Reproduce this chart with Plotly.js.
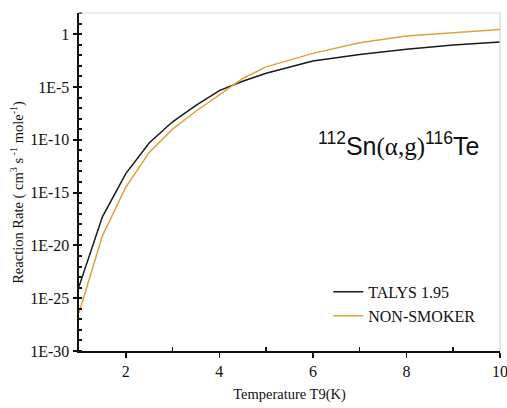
<!DOCTYPE html>
<html>
<head>
<meta charset="utf-8">
<script src="https://cdn.plot.ly/plotly-3.0.1.min.js"></script>
<style>html,body{margin:0;padding:0;background:#fff;}#chart{width:507px;height:408px;}</style>
</head>
<body>
<div id="chart"></div>
<script>
const temperature = [1, 1.5, 2, 2.5, 3, 3.5, 4, 4.5, 5, 6, 7, 8, 9, 10];
const talys = [1.26e-24, 5.0e-18, 6.3e-14, 5.0e-11, 5.0e-9, 1.8e-7, 4.5e-6, 3.5e-5, 2.0e-4, 2.8e-3, 1.2e-2, 3.6e-2, 9.1e-2, 0.178];
const nonSmoker = [4.0e-27, 7.9e-20, 3.2e-15, 6.3e-12, 1.0e-9, 5.0e-8, 1.8e-6, 6.3e-5, 7.9e-4, 1.5e-2, 0.15, 0.65, 1.32, 2.75];
const yTickVals = [1e-30, 1e-25, 1e-20, 1e-15, 1e-10, 1e-5, 1];
const yTickText = ["1E-30", "1E-25", "1E-20", "1E-15", "1E-10", "1E-5", "1"];
const yMinorVals = [];
for (let e = -30; e <= 2; e++) yMinorVals.push(Math.pow(10, e));
const xTickVals = [2, 4, 6, 8, 10];
const xMinorVals = [3, 5, 7, 9];

const serif = "Liberation Serif, Times New Roman, serif";

const traces = [
  {x: temperature, y: talys, mode: "lines", name: "TALYS 1.95",
   line: {color: "#1a1a1a", width: 1.5}},
  {x: temperature, y: nonSmoker, mode: "lines", name: "NON-SMOKER",
   line: {color: "#E1A23E", width: 1.5}}
];

const layout = {
  width: 507, height: 408,
  margin: {l: 79, r: 7, t: 13, b: 57},
  paper_bgcolor: "#fff", plot_bgcolor: "#fff",
  showlegend: true,
  legend: {x: 0.592, y: 0.225, xanchor: "left", yanchor: "top",
           font: {family: serif, size: 16, color: "#111"},
           bgcolor: "rgba(0,0,0,0)", tracegroupgap: 0},
  xaxis: {
    range: [1, 10], showgrid: false, zeroline: false,
    showline: true, linecolor: "#111", linewidth: 2,
    tickvals: xTickVals, ticks: "outside", ticklen: 5, tickwidth: 1.5, tickcolor: "#111",
    ticklabeloverflow: "allow",
    minor: {tickvals: xMinorVals, ticks: "inside", ticklen: 4, tickwidth: 1.5, tickcolor: "#111"},
    tickfont: {family: serif, size: 16, color: "#111"},
    title: {text: "Temperature T9(K)", font: {family: serif, size: 14.5, color: "#111"}, standoff: 10}
  },
  yaxis: {
    type: "log", range: [-30, 2], showgrid: false, zeroline: false,
    showline: true, linecolor: "#111", linewidth: 2.5,
    tickvals: yTickVals, ticktext: yTickText,
    ticks: "outside", ticklen: 4, tickwidth: 2, tickcolor: "#111",
    minor: {tickvals: yMinorVals, ticks: "inside", ticklen: 3, tickwidth: 2, tickcolor: "#111"},
    tickfont: {family: serif, size: 16, color: "#111"}
  },
  shapes: [
    {type: "line", xref: "paper", yref: "paper", x0: 0, x1: 1, y0: 1, y1: 1, line: {color: "#ddd", width: 1}},
    {type: "line", xref: "paper", yref: "paper", x0: 1, x1: 1, y0: 0, y1: 1, line: {color: "#ccc", width: 1}}
  ],
  annotations: [
    {
      xref: "paper", yref: "paper", x: 0.955, y: 0.61, xanchor: "right", yanchor: "middle",
      showarrow: false,
      text: "<sup>112</sup>Sn<span style=\"font-family:Liberation Serif\">(α,g)</span><sup>116</sup>Te",
      font: {family: "Liberation Sans, Arial, sans-serif", size: 25, color: "#111"}
    },
    {
      xref: "paper", yref: "paper", x: -0.148, y: 0.47, xanchor: "center", yanchor: "middle",
      textangle: -90, showarrow: false,
      text: "Reaction Rate ( cm<sup>3</sup> s<sup> -1</sup> mole<sup>-1</sup>)",
      font: {family: serif, size: 14.5, color: "#111"}
    }
  ]
};

Plotly.newPlot("chart", traces, layout, {displayModeBar: false, staticPlot: true});
</script>
</body>
</html>
